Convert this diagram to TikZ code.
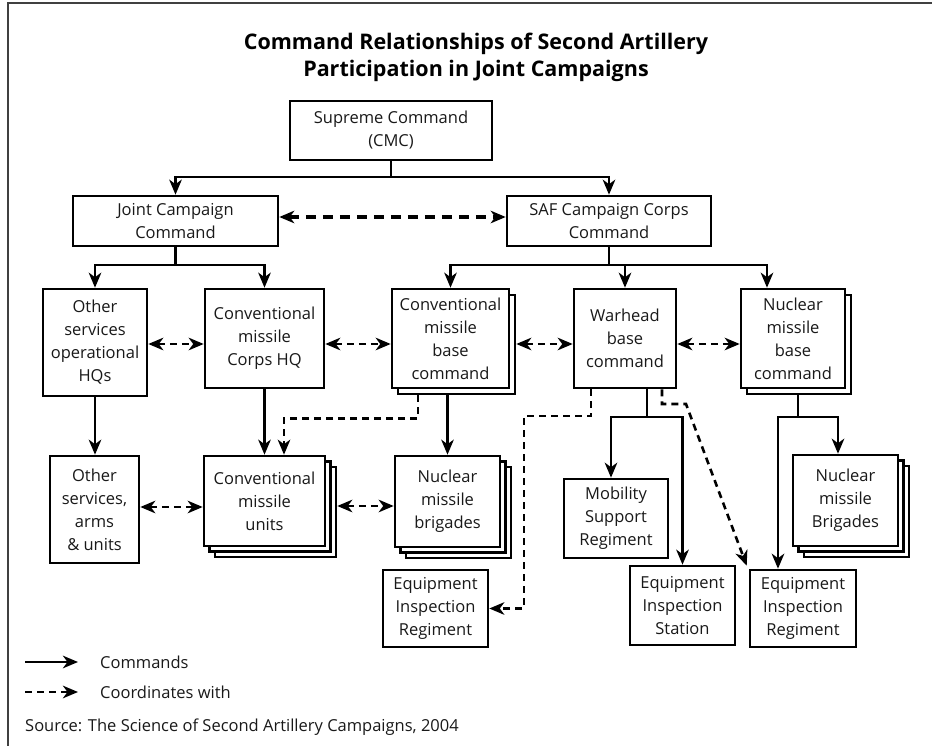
\documentclass[tikz,border=0pt]{standalone}
\usepackage{fontspec}
\setmainfont{Open Sans}
\usetikzlibrary{arrows.meta,shadows,calc}
\begin{document}
\begin{tikzpicture}[x=1pt,y=1pt,
  font=\fontsize{16.5}{23}\selectfont,
  box/.style={draw=black, line width=2.6pt, fill=white, align=center, inner sep=0pt, text=black!90},
  stackone/.style={copy shadow={shadow xshift=6pt, shadow yshift=-6pt}},
  stacktwo/.style={copy shadow={shadow xshift=11pt, shadow yshift=-11pt}, copy shadow={shadow xshift=5.5pt, shadow yshift=-5.5pt}},
  tip/.tip={Stealth[length=15pt,width=12.5pt,inset=4.5pt]},
  cmd/.style={line width=2.6pt, -tip},
  crd/.style={line width=2.6pt, -tip, dash pattern=on 7pt off 5pt},
  crdd/.style={line width=2.6pt, tip-tip, dash pattern=on 7pt off 5pt},
  plain/.style={line width=2.6pt},
  ]
\useasboundingbox (0,0) rectangle (932,-746);
% frame
\draw[line width=1.8pt, black!75] (8,-746) -- (8,-3) -- (932,-3);

% title
\node[font=\bfseries\fontsize{21.5}{27}\selectfont, align=center, text=black] (title) at (476,-57)
  {Command Relationships of Second Artillery\\Participation in Joint Campaigns};

% nodes
\node[box, minimum width=202pt, minimum height=59pt] (sup) at (391,-130.5) {Supreme Command\\(CMC)};
\node[box, minimum width=205pt, minimum height=50pt] (jcc) at (175.5,-221) {Joint Campaign\\Command};
\node[box, minimum width=204pt, minimum height=50pt] (saf) at (609,-221) {SAF Campaign Corps\\Command};

\node[box, minimum width=104pt, minimum height=107pt] (osh) at (95,-342.5) {Other\\services\\operational\\HQs};
\node[box, minimum width=119pt, minimum height=99pt] (cch) at (264.5,-338.5) {Conventional\\missile\\Corps HQ};
\node[box, stackone, minimum width=117pt, minimum height=99pt] (cbc) at (450.5,-338.5) {Conventional\\missile\\base\\command};
\node[box, minimum width=102pt, minimum height=99pt] (wbc) at (625,-338.5) {Warhead\\base\\command};
\node[box, stackone, minimum width=104pt, minimum height=99pt] (nbc) at (793,-338.5) {Nuclear\\missile\\base\\command};

\node[box, minimum width=89pt, minimum height=107pt] (osa) at (94.5,-509.5) {Other\\services,\\arms\\\& units};
\node[box, stacktwo, minimum width=121pt, minimum height=90pt] (cmu) at (264.5,-501) {Conventional\\missile\\units};
\node[box, stacktwo, minimum width=105pt, minimum height=91pt] (nmb) at (447.5,-501.5) {Nuclear\\missile\\brigades};
\node[box, minimum width=105pt, minimum height=77pt] (eira) at (435.5,-608.5) {Equipment\\Inspection\\Regiment};
\node[box, minimum width=104pt, minimum height=79pt] (msr) at (616,-518.5) {Mobility\\Support\\Regiment};
\node[box, minimum width=105pt, minimum height=79pt] (eis) at (682.5,-605.5) {Equipment\\Inspection\\Station};
\node[box, minimum width=106pt, minimum height=77pt] (eirb) at (803,-608.5) {Equipment\\Inspection\\Regiment};
\node[box, stacktwo, minimum width=105pt, minimum height=91pt] (nmbb) at (845.5,-500.5) {Nuclear\\missile\\Brigades};

% bus coordinates
\coordinate (b1) at (0,-177);
\coordinate (b2) at (0,-265);
\coordinate (b3) at (0,-417);
\coordinate (d1) at (524,-416);
\coordinate (d2) at (686,-404);

% commands from top
\draw[plain] (sup.south) -- (sup.south |- b1);
\draw[cmd] (sup.south |- b1) -| (jcc.north);
\draw[cmd] (sup.south |- b1) -| (saf.north);

\draw[plain] (jcc.south) -- (jcc.south |- b2);
\draw[cmd] (jcc.south |- b2) -| (osh.north);
\draw[cmd] (jcc.south |- b2) -| (cch.north);

\draw[plain] (saf.south) -- (saf.south |- b2);
\draw[cmd] (saf.south |- b2) -| (cbc.north);
\draw[cmd] (saf.south |- b2) -| (wbc.north);
\draw[cmd] (saf.south |- b2) -| ([xshift=-26pt]nbc.north);

% coordination row 1
\draw[crdd, line width=3.2pt, dash pattern=on 10pt off 7pt] ([yshift=4pt]jcc.east) -- ([yshift=4pt]saf.west);

% coordination row 2
\draw[crdd] ([yshift=-1.5pt]osh.east) -- ([yshift=-1.5pt]osh.east -| cch.west);
\draw[crdd] ([yshift=-5.5pt]cch.east) -- ([yshift=-5.5pt]cbc.west);
\draw[crdd] ([xshift=6pt,yshift=-5.5pt]cbc.east) -- ([yshift=-5.5pt]wbc.west);
\draw[crdd] ([yshift=-5.5pt]wbc.east) -- ([yshift=-5.5pt]nbc.west);

% row 2 to row 3
\draw[cmd] (osh.south) -- (osh.south |- osa.north);
\draw[cmd] (cch.south) -- (cmu.north);
\draw[crd] ([xshift=-32.5pt,yshift=-6pt]cbc.south) -- ++(0,-23) -| ([xshift=19.5pt]cmu.north);
\draw[cmd] ([yshift=-6pt]cbc.south -| nmb.north) -- (nmb.north);

% coordination row 3
\draw[crdd] ([yshift=2.5pt]osa.east) -- ([yshift=2.5pt]osa.east -| cmu.west);
\draw[crdd] ([xshift=11pt,yshift=-5pt]cmu.east) -- ([yshift=-5pt]cmu.east -| nmb.west);

% warhead base command
\draw[plain] ([xshift=22pt]wbc.south) -- ([xshift=22pt]wbc.south |- b3);
\draw[cmd] ([xshift=22pt]wbc.south |- b3) -| ([xshift=-5pt]msr.north);
\draw[cmd] ([xshift=22pt]wbc.south |- b3) -| (eis.north);
\draw[crd] ([xshift=-34pt]wbc.south) |- (d1) |- (eira.east);
\draw[crd] ([xshift=37pt]wbc.south) |- (d2) -- ([shift={(-2pt,3pt)}]eirb.north west);

% nuclear missile base command
\draw[plain] ([xshift=5pt,yshift=-6pt]nbc.south) -- ([xshift=5pt]nbc.south |- b3);
\draw[cmd] ([xshift=5pt]nbc.south |- b3) -| ([xshift=-7.5pt]nmbb.north);
\draw[cmd] ([xshift=5pt]nbc.south |- b3) -| ([xshift=-25pt]eirb.north);

% legend
\coordinate (la) at (25,-662);
\coordinate (lb) at (78,-662);
\coordinate (lc) at (25,-692);
\coordinate (ld) at (78,-692);
\draw[cmd] (la) -- (lb);
\draw[crd] (lc) -- (ld);
\node[anchor=west, inner sep=0pt, text=black!90] (lt1) at (100,-662) {Commands};
\node[anchor=west, inner sep=0pt, text=black!90] (lt2) at (100,-692) {Coordinates with};
\node[anchor=west, inner sep=0pt, text=black!90] (src) at (25,-727) {Source: The Science of Second Artillery Campaigns, 2004};
\end{tikzpicture}
\end{document}
